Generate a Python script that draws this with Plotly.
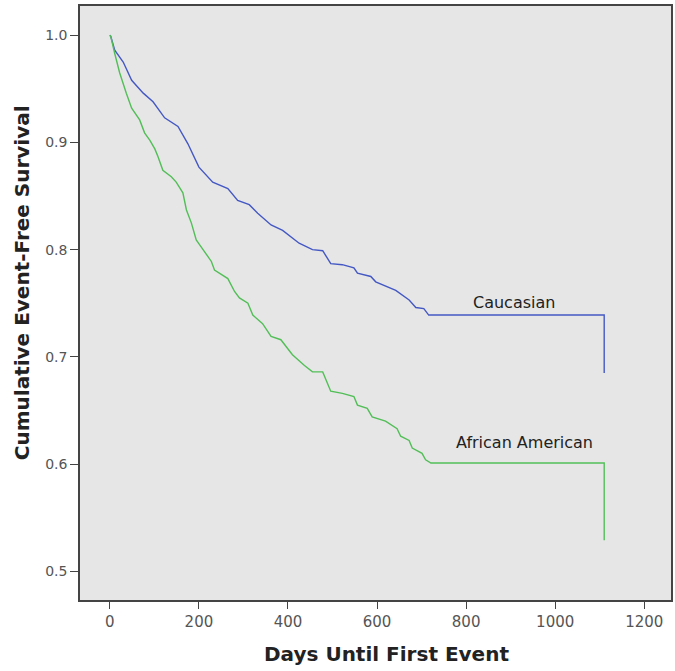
import plotly.graph_objects as go

# Caucasian (blue) Kaplan-Meier estimates
cau_days = [0, 2, 11, 30, 49, 75, 97, 123, 153, 175, 200, 231, 265, 287, 313, 332, 362, 388,
            425, 455, 478, 496, 522, 548, 556, 586, 597, 642, 672, 687, 705, 716, 1110, 1110]
cau_surv = [1.0, 0.999, 0.986, 0.975, 0.958, 0.946, 0.938, 0.923, 0.915, 0.899, 0.877, 0.863,
            0.857, 0.846, 0.842, 0.834, 0.823, 0.818, 0.806, 0.800, 0.799, 0.787, 0.786, 0.783,
            0.778, 0.775, 0.770, 0.762, 0.753, 0.746, 0.745, 0.739, 0.739, 0.685]

# African American (green) Kaplan-Meier estimates
aa_days = [0, 2, 11, 22, 37, 49, 67, 78, 90, 101, 108, 119, 138, 149, 164, 172, 183, 194, 201,
           209, 228, 235, 265, 280, 291, 310, 321, 343, 362, 384, 410, 437, 455, 478, 496, 522,
           548, 556, 578, 589, 619, 645, 653, 672, 679, 701, 709, 721, 1110, 1110]
aa_surv = [1.0, 0.999, 0.983, 0.965, 0.946, 0.932, 0.921, 0.909, 0.902, 0.894, 0.887, 0.874,
           0.868, 0.863, 0.853, 0.837, 0.825, 0.809, 0.805, 0.800, 0.789, 0.781, 0.773, 0.761,
           0.755, 0.750, 0.739, 0.731, 0.719, 0.716, 0.702, 0.692, 0.686, 0.686, 0.668, 0.666,
           0.663, 0.655, 0.652, 0.644, 0.640, 0.633, 0.626, 0.622, 0.615, 0.610, 0.604, 0.601,
           0.601, 0.529]

x_ticks = [0, 200, 400, 600, 800, 1000, 1200]
y_ticks = [0.5, 0.6, 0.7, 0.8, 0.9, 1.0]
y_tick_text = ["0.5", "0.6", "0.7", "0.8", "0.9", "1.0"]

group_labels = ["Caucasian", "African American"]
label_pos = [(907, 0.751), (932, 0.620)]

FONT = "DejaVu Sans"

fig = go.Figure()
fig.add_trace(go.Scatter(x=cau_days, y=cau_surv, mode="lines",
                         line=dict(color="#4458c4", width=1.4), name=group_labels[0]))
fig.add_trace(go.Scatter(x=aa_days, y=aa_surv, mode="lines",
                         line=dict(color="#52be57", width=1.4), name=group_labels[1]))

for lab, (lx, ly) in zip(group_labels, label_pos):
    fig.add_annotation(x=lx, y=ly, text=lab, showarrow=False,
                       xanchor="center", yanchor="middle",
                       font=dict(family=FONT, size=16, color="#222222"))

fig.add_annotation(xref="paper", yref="paper", x=(387.5 - 80) / 593, y=(600 - 654) / 594,
                   xanchor="center", yanchor="middle",
                   text="<b>Days Until First Event</b>", showarrow=False,
                   font=dict(family=FONT, size=20, color="#222222"))
fig.add_annotation(xref="paper", yref="paper", x=(22 - 80) / 593, y=(600 - 283) / 594,
                   xanchor="center", yanchor="middle",
                   text="<b>Cumulative Event-Free Survival</b>", showarrow=False, textangle=-90,
                   font=dict(family=FONT, size=20, color="#222222"))

fig.update_layout(
    width=675, height=671,
    margin=dict(l=80, r=2, t=6, b=71),
    paper_bgcolor="white", plot_bgcolor="#e6e6e6",
    showlegend=False,
    font=dict(family=FONT, color="#444444"),
)
fig.update_xaxes(range=[-67, 1260], tickvals=x_ticks, ticks="outside", ticklen=7,
                 tickcolor="#444444", showgrid=False, zeroline=False, showline=True,
                 linecolor="#444444", linewidth=1.5, mirror=True,
                 tickfont=dict(family=FONT, size=15, color="#555555"))
fig.update_yaxes(range=[0.4732, 1.0273], tickvals=y_ticks, ticktext=y_tick_text,
                 ticks="outside", ticklen=8, tickcolor="#444444", showgrid=False,
                 zeroline=False, showline=True, linecolor="#444444", linewidth=1.5,
                 mirror=True, tickfont=dict(family=FONT, size=14, color="#555555"))

fig.write_html("out.html", config={"displayModeBar": False},
               post_script="document.body.style.margin='0';")
